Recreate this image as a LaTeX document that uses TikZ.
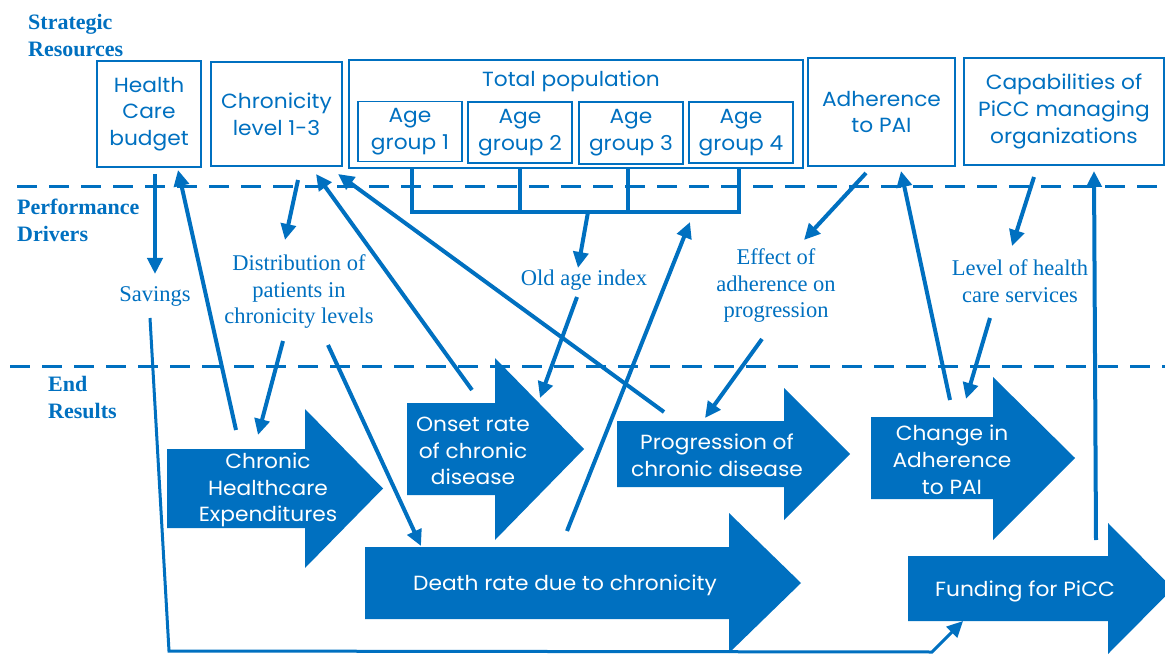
\documentclass[tikz,border=0pt]{standalone}
\usepackage{fontspec}
\setmainfont{Liberation Serif}
\newfontfamily\boxfont{Poppins}[FakeStretch=1.06]
\usetikzlibrary{arrows.meta}
\definecolor{pblue}{RGB}{0,112,192}

\begin{document}
\begin{tikzpicture}[x=1pt,y=-1pt,
  sbox/.style={draw=pblue, line width=1.8pt, inner sep=0pt},
  boxtxt/.style={text=pblue, font=\boxfont\fontsize{20.5}{26.8}\selectfont, align=center, inner sep=0pt},
  arrtxt/.style={text=white, font=\boxfont\fontsize{20.5}{26.8}\selectfont, align=center, inner sep=0pt},
  drv/.style={text=pblue, font=\fontsize{22.5}{26.5}\selectfont, align=center, inner sep=0pt},
  tier/.style={text=pblue, font=\bfseries\fontsize{22}{27}\selectfont, align=left, inner sep=0pt, anchor=west},
  link/.style={draw=pblue, line width=4pt, -{Triangle[length=16pt,width=15pt]}},
  bracketline/.style={draw=pblue, line width=4pt},
  tierline/.style={draw=pblue, line width=3pt, dash pattern=on 20pt off 12pt},
  bigfill/.style={fill=pblue}]
\useasboundingbox (0,0) rectangle (1165,655);

% tier separators
\draw[tierline] (17,187) -- (1165,187);
\draw[tierline] (10,366) -- (1165,366);

% tier headings
\node[tier] (trs) at (28,35.5) {Strategic\\Resources};
\node[tier] (tpd) at (17,220) {Performance\\Drivers};
\node[tier] (ter) at (48,398) {End\\Results};

% strategic resources
\node[sbox, boxtxt, minimum width=104pt, minimum height=106pt] (hcb) at (149,114) {Health\\Care\\budget};
\node[sbox, boxtxt, minimum width=131pt, minimum height=104pt] (chl) at (276.5,114) {Chronicity\\level 1-3};
\node[sbox, minimum width=454pt, minimum height=108pt] (tp) at (576,114) {};
\node[boxtxt] (tpl) at (571,81) {Total population};
\node[sbox, boxtxt, minimum width=104pt, minimum height=60pt] (ag1) at (410,131.5) {Age\\group 1};
\node[sbox, boxtxt, minimum width=104pt, minimum height=61pt] (ag2) at (520,132.5) {Age\\group 2};
\node[sbox, boxtxt, minimum width=104pt, minimum height=62pt] (ag3) at (631,133) {Age\\group 3};
\node[sbox, boxtxt, minimum width=104pt, minimum height=61pt] (ag4) at (741,132.5) {Age\\group 4};
\node[sbox, boxtxt, minimum width=147pt, minimum height=108pt] (adh) at (881.5,112) {Adherence\\to PAI};
\node[sbox, boxtxt, minimum width=200pt, minimum height=107pt] (cap) at (1064,111.5) {Capabilities of\\PiCC managing\\organizations};

% performance drivers
\node[drv] (sav) at (155,296) {Savings};
\node[drv] (dst) at (299,292) {Distribution of\\patients in\\chronicity levels};
\node[drv] (oai) at (584,280) {Old age index};
\node[drv] (eff) at (776,286) {Effect of\\adherence on\\progression};
\node[drv] (lhc) at (1020,281) {Level of health\\care services};

% end results
\fill[bigfill] (167,449) -- (305,449) -- (305,409) -- (383,488.5) -- (305,568) -- (305,528) -- (167,528) -- cycle;
\node[arrtxt] (che) at (268,490) {Chronic\\Healthcare\\Expenditures};
\fill[bigfill] (407,403) -- (495,403) -- (495,358) -- (584,449) -- (495,540) -- (495,495) -- (407,495) -- cycle;
\node[arrtxt] (ons) at (473,451) {Onset rate\\of chronic\\disease};
\fill[bigfill] (617,421) -- (784,421) -- (784,388) -- (850,454) -- (784,520) -- (784,487) -- (617,487) -- cycle;
\node[arrtxt] (prg) at (717,455) {Progression of\\chronic disease};
\fill[bigfill] (871,417) -- (993,417) -- (993,377) -- (1075,458) -- (993,540) -- (993,499) -- (871,499) -- cycle;
\node[arrtxt] (cha) at (952,460) {Change in\\Adherence\\to PAI};
\fill[bigfill] (365,547) -- (729,547) -- (729,513) -- (801,583) -- (729,653) -- (729,619) -- (365,619) -- cycle;
\node[arrtxt] (dth) at (565,585) {Death rate due to chronicity};
\fill[bigfill] (908,556) -- (1108,556) -- (1108,523) -- (1173,588.5) -- (1108,654) -- (1108,621) -- (908,621) -- cycle;
\node[arrtxt] (fnd) at (1025,591) {Funding for PiCC};

% connector end points
\coordinate (hcb-out) at (155,174);
\coordinate (sav-in) at (155,274);
\coordinate (che-out) at (236,430);
\coordinate (hcb-in) at (178,170);
\coordinate (sav-out) at (150,318);
\coordinate (low-l) at (169,651);
\coordinate (low-r) at (932,652);
\coordinate (fnd-in) at (963,621);
\coordinate (chl-out) at (298,180);
\coordinate (dst-in) at (285,240);
\coordinate (dst-out1) at (283,341);
\coordinate (che-in) at (258,435);
\coordinate (dst-out2) at (328,345);
\coordinate (dth-in) at (421,546);
\coordinate (ons-out) at (472,390);
\coordinate (chl-in1) at (316,174);
\coordinate (prg-out) at (664,412);
\coordinate (chl-in2) at (338,174);
\coordinate (oai-out) at (577,297);
\coordinate (ons-in) at (540,398);
\coordinate (dth-out) at (567,531);
\coordinate (tp-in) at (690,222);
\coordinate (adh-out) at (866,173);
\coordinate (eff-in) at (804,240);
\coordinate (eff-out) at (762,339);
\coordinate (prg-in) at (705,418);
\coordinate (cha-out) at (950,400);
\coordinate (adh-in) at (901,171);
\coordinate (cap-out) at (1034,177);
\coordinate (lhc-in) at (1012,246);
\coordinate (lhc-out) at (990,318);
\coordinate (cha-in) at (966,399);
\coordinate (fnd-out) at (1096,540);
\coordinate (cap-in) at (1094,171);
\coordinate (brk-l) at (412,212);
\coordinate (brk-r) at (739,212);
\coordinate (brk-m) at (588,212);
\coordinate (oai-in) at (578,268);

% age groups feeding the old age index
\draw[bracketline] (tp.south -| brk-l) -- (brk-l) -- (brk-r) -- (tp.south -| brk-r);
\draw[bracketline] (tp.south -| 520,0) -- (520,212);
\draw[bracketline] (tp.south -| 628,0) -- (628,212);
\draw[link] (brk-m) -- (oai-in);

% causal links
\draw[link] (hcb-out) -- (sav-in);
\draw[link] (che-out) -- (hcb-in);
\draw[link, line width=3pt] (sav-out) -- (low-l) -- (low-r) -- (fnd-in);
\draw[link] (chl-out) -- (dst-in);
\draw[link] (dst-out1) -- (che-in);
\draw[link] (dst-out2) -- (dth-in);
\draw[link] (ons-out) -- (chl-in1);
\draw[link] (prg-out) -- (chl-in2);
\draw[link] (oai-out) -- (ons-in);
\draw[link] (dth-out) -- (tp-in);
\draw[link] (adh-out) -- (eff-in);
\draw[link] (eff-out) -- (prg-in);
\draw[link] (cha-out) -- (adh-in);
\draw[link] (cap-out) -- (lhc-in);
\draw[link] (lhc-out) -- (cha-in);
\draw[link] (fnd-out) -- (cap-in);
\end{tikzpicture}
\end{document}
